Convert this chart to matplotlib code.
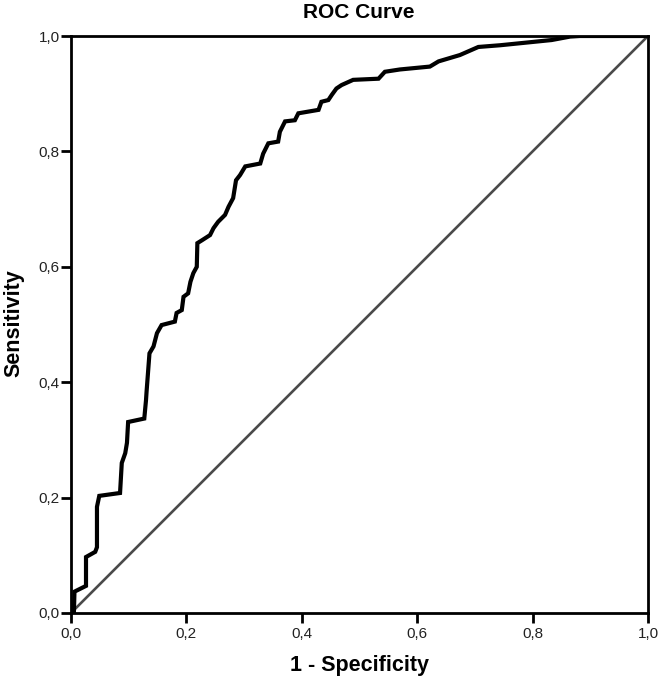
"""
# ROC curve redrawn in matplotlib
"""

### Packages
import matplotlib.pyplot as plt

### Data
# 1 - Specificity (false positive rate)
fpr = [0.0, 0.005, 0.006, 0.026, 0.026, 0.042, 0.045, 0.045, 0.049, 0.085,
       0.088, 0.094, 0.097, 0.099, 0.127, 0.130, 0.131, 0.136, 0.143, 0.149,
       0.157, 0.180, 0.183, 0.192, 0.195, 0.203, 0.207, 0.212, 0.218, 0.219,
       0.227, 0.241, 0.247, 0.255, 0.267, 0.273, 0.281, 0.286, 0.293, 0.302,
       0.328, 0.333, 0.342, 0.359, 0.362, 0.371, 0.388, 0.394, 0.429, 0.434,
       0.446, 0.452, 0.460, 0.469, 0.489, 0.533, 0.544, 0.570, 0.622, 0.637,
       0.674, 0.706, 0.744, 0.833, 0.865, 0.882, 1.0]
# Sensitivity (true positive rate)
tpr = [0.0, 0.0, 0.037, 0.047, 0.097, 0.106, 0.114, 0.184, 0.203, 0.208,
       0.260, 0.277, 0.295, 0.331, 0.337, 0.369, 0.384, 0.450, 0.462, 0.485,
       0.499, 0.505, 0.520, 0.525, 0.548, 0.554, 0.574, 0.589, 0.600, 0.641,
       0.646, 0.655, 0.667, 0.678, 0.690, 0.704, 0.719, 0.750, 0.759, 0.774,
       0.779, 0.796, 0.814, 0.817, 0.834, 0.852, 0.854, 0.866, 0.872, 0.886,
       0.889, 0.898, 0.909, 0.915, 0.924, 0.926, 0.938, 0.942, 0.947, 0.956,
       0.967, 0.981, 0.984, 0.993, 0.999, 1.0, 1.0]
# Reference line
ref = [0.0, 1.0]
ticks = [0.0, 0.2, 0.4, 0.6, 0.8, 1.0]
tick_labels = ["0,0", "0,2", "0,4", "0,6", "0,8", "1,0"]

### Plot
plt.rcParams['font.family'] = ['Liberation Sans', 'DejaVu Sans']
fig = plt.figure(figsize=(6.63, 6.85), dpi=100)
ax = fig.add_axes([71 / 663, 1 - 613 / 685, 577 / 663, 577 / 685])

ax.plot(ref, ref, color="#4a4a4a", lw=1.9, zorder=2)
ax.plot(fpr, tpr, color="black", lw=3.0, solid_joinstyle="miter", zorder=3)

ax.set_xlim(0, 1)
ax.set_ylim(0, 1)
ax.set_xticks(ticks)
ax.set_xticklabels(tick_labels)
ax.set_yticks(ticks)
ax.set_yticklabels(tick_labels)
ax.tick_params(direction="out", length=7, width=2, labelsize=11,
               colors="black", labelcolor="#222222")
ax.tick_params(axis="y", pad=1)
ax.tick_params(axis="x", pad=3)
for spine in ax.spines.values():
    spine.set_linewidth(2)
    spine.set_color("black")

# Titles placed in figure coordinates
fig.text(359 / 663, 1 - 12 / 685, "ROC Curve", ha="center", va="center",
         fontsize=15, fontweight="bold")
fig.text(359 / 663, 1 - 665 / 685, "1 - Specificity", ha="center", va="center",
         fontsize=15.5, fontweight="bold")
fig.text(14 / 663, 1 - 323 / 685, "Sensitivity", ha="center", va="center",
         rotation=90, fontsize=15.5, fontweight="bold")

plt.savefig("out.png", dpi=100)
plt.close()
